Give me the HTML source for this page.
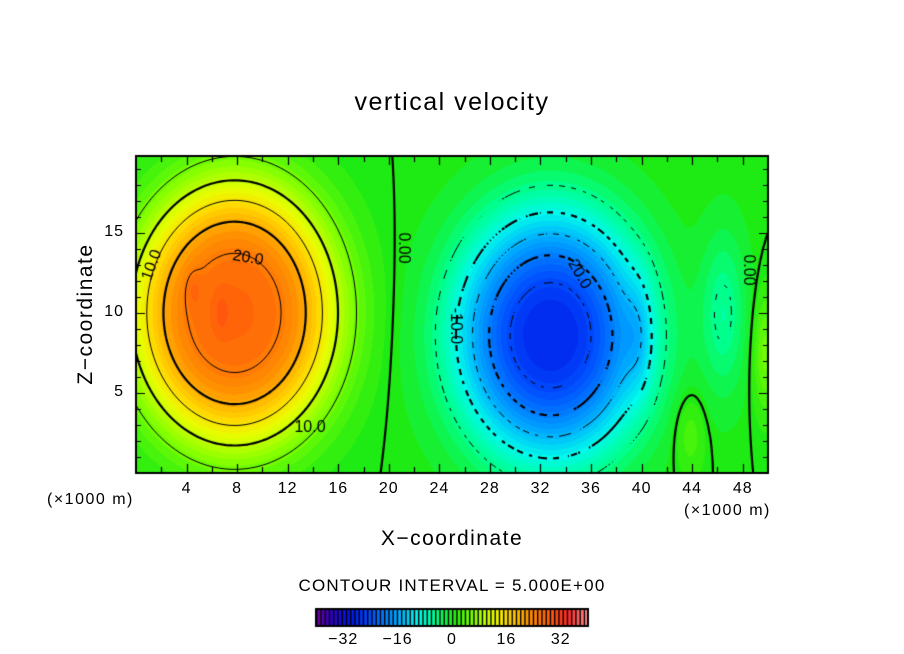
<!DOCTYPE html>
<html><head><meta charset="utf-8">
<style>
body{margin:0;background:#fff;}
#wrap{position:relative;width:904px;height:654px;overflow:hidden;font-family:"Liberation Sans",sans-serif;color:#000;}
.t{position:absolute;white-space:nowrap;}
</style></head>
<body>
<div id="wrap">
<div class="t" style="left:0;width:904px;text-align:center;top:88px;font-size:25px;letter-spacing:1.5px;">vertical velocity</div>
<canvas id="cv" width="904" height="654" style="position:absolute;left:0;top:0"></canvas>
<div class="t" style="left:-4px;top:302px;width:180px;text-align:center;font-size:21px;letter-spacing:1.5px;transform:rotate(-90deg);transform-origin:90px 12px;">Z&#8722;coordinate</div>
<div class="t" style="left:0;width:904px;text-align:center;top:527px;font-size:21px;letter-spacing:1.5px;">X&#8722;coordinate</div>
<div class="t" style="left:47px;top:491px;font-size:16px;letter-spacing:1.5px;">(×1000 m)</div>
<div class="t" style="left:684px;top:502px;font-size:16px;letter-spacing:1.5px;">(×1000 m)</div>
<div class="t" style="left:0;width:904px;text-align:center;top:576px;font-size:17px;letter-spacing:1.2px;">CONTOUR INTERVAL = 5.000E+00</div>
</div>
<script>
// field model data (blobs in x1000 m units)
const blobX=[7.8,32.8,43.8,49.8,46.5,39.8,4.5,6.8];
const blobZ=[10.0,8.6,2.5,7.5,10,8.5,11.5,10];
const blobAmp=[27,-28,3,5,-5.5,-4,2,2];
const blobSx=[8.2,7.4,1.2,1.0,1.8,1.1,0.6,0.6];
const blobSz=[8.3,7.6,2.6,3.5,5,3.5,1.2,1.2];
const blobPow=[3.2,2.6,2,2,2,2,2,2];
const xTicks=[4,8,12,16,20,24,28,32,36,40,44,48];
const zTicks=[5,10,15];
const cbTicks=[-32,-16,0,16,32];
const levels=[-25,-20,-15,-10,-5,0,5,10,15,20,25];
const cLabels=[["10.0",152,265,-70],["20.0",248,258,10],["10.0",310,428,0],["0.00",403,248,90],["-20.0",578,272,60],["-10.0",455,326,90],["0.00",748,270,90]];

const PX=136,PY=156,PW=632,PH=317,XMAX=50,ZMAX=19.8;
const sx=x=>PX+x/XMAX*PW, sy=z=>PY+PH-z/ZMAX*PH;
function field(x,z){let w=0;for(let i=0;i<blobX.length;i++){const dx=(x-blobX[i])/blobSx[i],dz=(z-blobZ[i])/blobSz[i];const r=Math.sqrt(dx*dx+dz*dz);w+=blobAmp[i]*Math.exp(-Math.pow(r,blobPow[i]));}return w;}
const anchors=[[-40,[112,0,160]],[-36,[50,0,190]],[-30,[0,20,230]],[-24,[0,80,255]],[-16,[0,170,255]],[-10,[0,250,235]],[-5,[0,255,140]],[0,[30,235,20]],[6,[130,255,0]],[12,[230,255,0]],[16,[255,220,0]],[22,[255,150,0]],[28,[255,95,10]],[34,[255,40,40]],[40,[255,150,150]]];
function cmap(v){v=Math.max(-40,Math.min(40,v));for(let i=0;i<anchors.length-1;i++){const a=anchors[i],b=anchors[i+1];if(v<=b[0]){const t=(v-a[0])/(b[0]-a[0]);return a[1].map((c,k)=>Math.round(c+(b[1][k]-c)*t));}}return anchors[anchors.length-1][1];}
const cv=document.getElementById('cv'),ctx=cv.getContext('2d');
const img=ctx.createImageData(PW,PH);
for(let j=0;j<PH;j++)for(let i=0;i<PW;i++){const x=(i+0.5)/PW*XMAX,z=(PH-j-0.5)/PH*ZMAX;let v=field(x,z);v=Math.round(v/1.25)*1.25;const c=cmap(v);const k=(j*PW+i)*4;img.data[k]=c[0];img.data[k+1]=c[1];img.data[k+2]=c[2];img.data[k+3]=255;}
ctx.putImageData(img,PX,PY);
const G=3,nx=Math.ceil(PW/G),ny=Math.ceil(PH/G);const F=[];
for(let j=0;j<=ny;j++){F[j]=[];for(let i=0;i<=nx;i++)F[j][i]=field(i*G/PW*XMAX,(PH-j*G)/PH*ZMAX);}
ctx.save();ctx.beginPath();ctx.rect(PX,PY,PW,PH);ctx.clip();ctx.strokeStyle='#000';
levels.forEach(L=>{ctx.lineWidth=(L%10===0)?2.2:1;ctx.beginPath();
 for(let j=0;j<ny;j++)for(let i=0;i<nx;i++){const a=F[j][i],b=F[j][i+1],c=F[j+1][i+1],d=F[j+1][i];const pts=[];
  const e=(v1,v2,x1,y1,x2,y2)=>{if((v1<L)!==(v2<L)){const t=(L-v1)/(v2-v1);pts.push([x1+(x2-x1)*t,y1+(y2-y1)*t]);}};
  const X=PX+i*G,Y=PY+j*G;e(a,b,X,Y,X+G,Y);e(b,c,X+G,Y,X+G,Y+G);e(c,d,X+G,Y+G,X,Y+G);e(d,a,X,Y+G,X,Y);
  if(L<0&&(Math.floor((X+Y)/7)%2===1))continue;
  for(let k=0;k+1<pts.length;k+=2){ctx.moveTo(pts[k][0],pts[k][1]);ctx.lineTo(pts[k+1][0],pts[k+1][1]);}}
 ctx.stroke();});
ctx.restore();
ctx.font='16px "Liberation Sans",sans-serif';ctx.textAlign='center';ctx.textBaseline='middle';ctx.fillStyle='#000';
cLabels.forEach(l=>{ctx.save();ctx.translate(l[1],l[2]);ctx.rotate(l[3]*Math.PI/180);ctx.fillText(l[0],0,0);ctx.restore();});
ctx.strokeStyle='#000';ctx.lineWidth=2;ctx.strokeRect(PX,PY,PW,PH);ctx.lineWidth=1.2;
ctx.beginPath();
for(let x=2;x<XMAX;x+=2){const p=Math.round(sx(x))+0.5,len=(x%4===0)?9:6;ctx.moveTo(p,PY+PH);ctx.lineTo(p,PY+PH-len);ctx.moveTo(p,PY);ctx.lineTo(p,PY+len);}
for(let z=1;z<ZMAX;z+=1){const p=Math.round(sy(z))+0.5,len=(z%5===0)?9:5;ctx.moveTo(PX,p);ctx.lineTo(PX+len,p);ctx.moveTo(PX+PW,p);ctx.lineTo(PX+PW-len,p);}
ctx.stroke();
const wrap=document.getElementById('wrap');
xTicks.forEach(v=>{const d=document.createElement('div');d.className='t';


d.style.cssText=`left:${sx(v)-20}px;width:40px;text-align:center;top:480px;font-size:16px;letter-spacing:1px;`;d.textContent=v;wrap.appendChild(d);});
zTicks.forEach(v=>{const d=document.createElement('div');d.className='t';


d.style.cssText=`left:84px;width:40px;text-align:right;top:${sy(v)-10}px;font-size:16px;letter-spacing:1px;`;d.textContent=v;wrap.appendChild(d);});
const CX=316,CW=272,CY=609,CH=17,cbx=v=>CX+(v+40)/80*CW;
ctx.fillStyle='#000';ctx.fillRect(CX,CY,CW,CH);
for(let v=-40;v<40;v+=1.25){const c=cmap(v+0.6);ctx.fillStyle=`rgb(${c})`;const x0=cbx(v);ctx.fillRect(x0+1.4,CY,cbx(v+1.25)-x0-1.4,CH);}
ctx.lineWidth=2;ctx.strokeStyle='#000';ctx.strokeRect(CX,CY,CW,CH);
cbTicks.forEach(v=>{const d=document.createElement('div');d.className='t';


d.style.cssText=`left:${cbx(v)-25}px;width:50px;text-align:center;top:631px;font-size:16px;letter-spacing:1px;`;d.textContent=v<0?'\u2212'+(-v):v;wrap.appendChild(d);});
</script>
</body></html>
